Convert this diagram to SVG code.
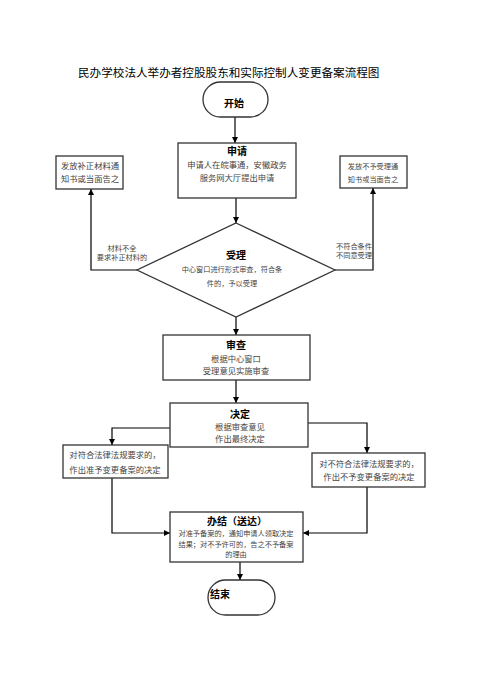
<svg xmlns="http://www.w3.org/2000/svg" width="484" height="684" viewBox="0 0 484 684">
<defs>
<marker id="ah" viewBox="0 0 10 10" refX="10" refY="5" markerWidth="6" markerHeight="6" orient="auto" markerUnits="userSpaceOnUse">
<path d="M0,0 L10,5 L0,10 z" fill="#000"/>
</marker>
<style>
text{font-family:"Liberation Sans","Noto Sans CJK SC",sans-serif;fill:#222;text-anchor:middle}
.t{font-size:11.6px;text-anchor:start;fill:#000}
.h{font-size:10px;font-weight:bold;fill:#000}
.s{font-size:8.3px;fill:#444}
.xs{font-size:7.2px;fill:#444}
.box{fill:#fff;stroke:#333;stroke-width:1.3}
.c{fill:none;stroke:#000;stroke-width:1.2;marker-end:url(#ah)}
</style>
</defs>
<rect width="484" height="684" fill="#fff"/>
<text class="t" x="78" y="77">民办学校法人举办者控股股东和实际控制人变更备案流程图</text>
<g id="connectors">
<path class="c" d="M235,117 L235,143"/>
<path class="c" d="M236,198 L236,223"/>
<path class="c" d="M137,270 L91,270 L91,189"/>
<path class="c" d="M335,270 L373,270 L373,188"/>
<path class="c" d="M236,317 L236,335"/>
<path class="c" d="M236,380 L236,403"/>
<path class="c" d="M170,428 L112,428 L112,445"/>
<path class="c" d="M308,423 L367,423 L367,453"/>
<path class="c" d="M112,478 L112,533 L170,533"/>
<path class="c" d="M367,487 L367,533 L303,533"/>
<path class="c" d="M240,562 L240,580"/>
</g>
<g id="start">
<rect class="box" x="203" y="82" width="65" height="35" rx="17.5"/>
<text class="h" x="234" y="107">开始</text>
</g>
<g id="apply">
<rect class="box" x="178" y="143" width="118" height="55"/>
<text class="h" x="237" y="155">申请</text>
<text class="s" x="237" y="168">申请人在皖事通，安徽政务</text>
<text class="s" x="237" y="181">服务网大厅提出申请</text>
</g>
<g id="accept">
<path class="box" d="M236,223 L335,270 L236,317 L137,270 Z"/>
<text class="h" x="236" y="259">受理</text>
<text class="xs" x="232" y="272">中心窗口进行形式审查，符合条</text>
<text class="xs" x="232" y="286">件的，予以受理</text>
</g>
<g id="supplement">
<rect class="box" x="56" y="156" width="67" height="33"/>
<text class="s" x="90" y="169">发放补正材料通</text>
<text class="s" x="90" y="182">知书或当面告之</text>
</g>
<g id="reject">
<rect class="box" x="340" y="156" width="67" height="32"/>
<text class="xs" x="373" y="169">发放不予受理通</text>
<text class="xs" x="373" y="182">知书或当面告之</text>
</g>
<g id="label-left">
<text class="xs" x="122" y="251">材料不全</text>
<text class="xs" x="122" y="260">要求补正材料的</text>
</g>
<g id="label-right">
<text class="xs" x="354" y="249">不符合条件</text>
<text class="xs" x="354" y="258">不同意受理</text>
</g>
<g id="review">
<rect class="box" x="163" y="335" width="147" height="45"/>
<text class="h" x="236" y="349">审查</text>
<text class="s" x="236" y="362">根据中心窗口</text>
<text class="s" x="236" y="374">受理意见实施审查</text>
</g>
<g id="decide">
<rect class="box" x="170" y="403" width="138" height="44"/>
<text class="h" x="240" y="418">决定</text>
<text class="s" x="240" y="430">根据审查意见</text>
<text class="s" x="240" y="442">作出最终决定</text>
</g>
<g id="approve">
<rect class="box" x="63" y="445" width="105" height="33"/>
<text class="s" x="115" y="458">对符合法律法规要求的，</text>
<text class="s" x="115" y="473">作出准予变更备案的决定</text>
</g>
<g id="deny">
<rect class="box" x="312" y="453" width="113" height="34"/>
<text class="s" x="369" y="467">对不符合法律法规要求的，</text>
<text class="s" x="369" y="480">作出不予变更备案的决定</text>
</g>
<g id="deliver">
<rect class="box" x="170" y="512" width="133" height="50"/>
<text class="h" x="237" y="525">办结（送达）</text>
<text class="xs" x="236" y="536">对准予备案的，通知申请人领取决定</text>
<text class="xs" x="236" y="547">结果；对不予许可的，告之不予备案</text>
<text class="xs" x="236" y="557">的理由</text>
</g>
<g id="end">
<rect class="box" x="208" y="580" width="67" height="35" rx="17.5"/>
<text class="h" x="210" y="598" style="text-anchor:start">结束</text>
</g>
</svg>
